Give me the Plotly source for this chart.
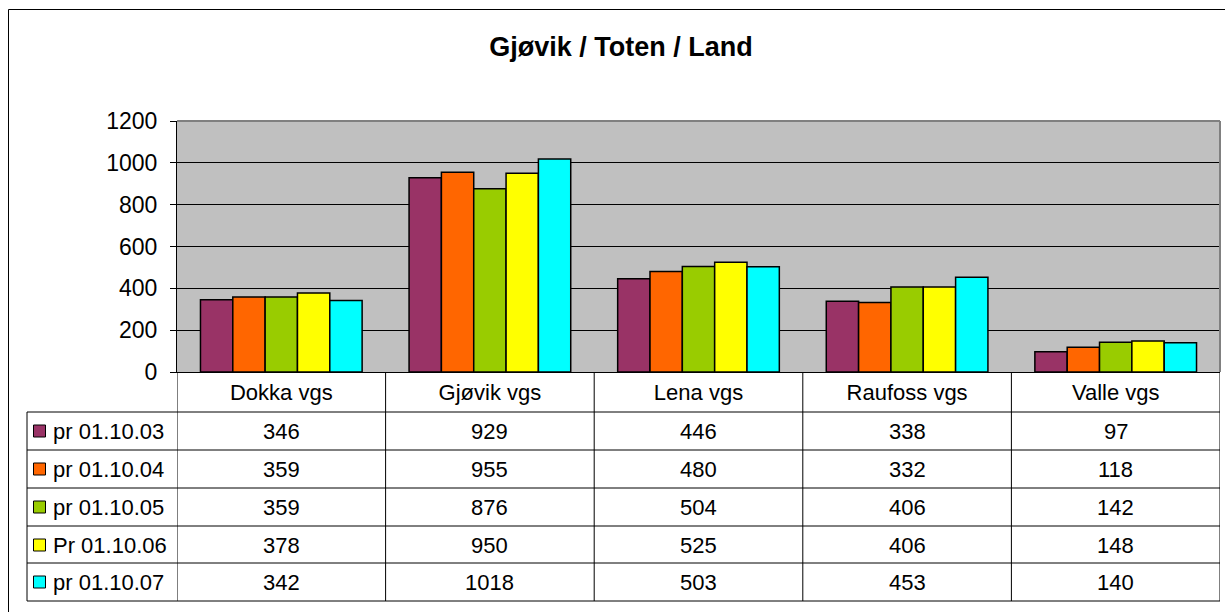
import plotly.graph_objects as go

categories = ["Dokka vgs", "Gjøvik vgs", "Lena vgs", "Raufoss vgs", "Valle vgs"]
series_names = ["pr 01.10.03", "pr 01.10.04", "pr 01.10.05", "Pr 01.10.06", "pr 01.10.07"]
v03 = [346, 929, 446, 338, 97]
v04 = [359, 955, 480, 332, 118]
v05 = [359, 876, 504, 406, 142]
v06 = [378, 950, 525, 406, 148]
v07 = [342, 1018, 503, 453, 140]
series_values = [v03, v04, v05, v06, v07]
colors = ["#993366", "#FF6600", "#99CC00", "#FFFF00", "#00FFFF"]
y_ticks = [0, 200, 400, 600, 800, 1000, 1200]

W, H = 1225, 612
L, R, T, B = 177, 5, 121, 240
PW = W - L - R
PH = H - T - B
FONT = "Liberation Sans, Arial, sans-serif"
FS = 22


def px(xp):
    return (xp - L) / PW


def py(yp):
    return (H - B - yp) / PH


fig = go.Figure()
for name, vals, col in zip(series_names, series_values, colors):
    fig.add_trace(go.Bar(
        x=list(range(len(categories))), y=vals, name=name,
        marker=dict(color=col, line=dict(color="black", width=1.5)),
        showlegend=False,
    ))

shapes = []
line_black = dict(color="black", width=1)
# table horizontal lines
row_edges = [412, 450, 488, 526, 563, 601]
for yy in row_edges:
    shapes.append(dict(type="line", xref="paper", yref="paper",
                       x0=px(27), x1=px(1220), y0=py(yy), y1=py(yy), line=line_black, layer="above"))
# vertical lines: column boundaries
for i in range(len(categories) + 1):
    shapes.append(dict(type="line", xref="x", yref="paper",
                       x0=i - 0.5, x1=i - 0.5, y0=py(372), y1=py(601), line=line_black, layer="above"))
shapes.append(dict(type="line", xref="paper", yref="paper",
                   x0=px(27), x1=px(27), y0=py(412), y1=py(601), line=line_black))
# plot area gray border top/right
shapes.append(dict(type="line", xref="paper", yref="paper", x0=0, x1=1, y0=1, y1=1,
                   line=dict(color="#808080", width=2), layer="above"))
shapes.append(dict(type="line", xref="paper", yref="paper", x0=1, x1=1, y0=0, y1=1,
                   line=dict(color="#808080", width=2), layer="above"))
# outer chart border (left and top)
shapes.append(dict(type="line", xref="paper", yref="paper", x0=px(8.5), x1=px(1240),
                   y0=py(9.5), y1=py(9.5), line=line_black))
shapes.append(dict(type="line", xref="paper", yref="paper", x0=px(8.5), x1=px(8.5),
                   y0=py(9.5), y1=py(640), line=line_black))

annotations = []
row_centers = [431, 469, 507, 545, 582]
for r, (name, vals, col) in enumerate(zip(series_names, series_values, colors)):
    yc = row_centers[r]
    shapes.append(dict(type="rect", xref="paper", yref="paper",
                       x0=px(33.5), x1=px(45.5), y0=py(yc - 6), y1=py(yc + 6),
                       fillcolor=col, line=dict(color="black", width=1)))
    annotations.append(dict(xref="paper", yref="paper", x=px(51), y=py(yc),
                            text=name, showarrow=False, xanchor="left", yanchor="middle",
                            font=dict(family=FONT, size=FS, color="black")))
    for i, v in enumerate(vals):
        annotations.append(dict(xref="x", yref="paper", x=i, y=py(yc),
                                text=str(v), showarrow=False, xanchor="center", yanchor="middle",
                                font=dict(family=FONT, size=FS, color="black")))

fig.update_layout(
    width=W, height=H,
    margin=dict(l=L, r=R, t=T, b=B),
    paper_bgcolor="white",
    plot_bgcolor="#C0C0C0",
    barmode="group",
    bargap=0.225,
    bargroupgap=0,
    title=dict(text="<b>Gjøvik / Toten / Land</b>", x=621 / W, xanchor="center",
               y=1 - 47 / H, yanchor="middle", yref="container",
               font=dict(family=FONT, size=27, color="black")),
    xaxis=dict(
        range=[-0.5, len(categories) - 0.5],
        tickvals=list(range(len(categories))), ticktext=categories,
        ticks="", showgrid=False, zeroline=False,
        showline=True, linecolor="black", linewidth=1,
        tickfont=dict(family=FONT, size=FS, color="black"),
        ticklabelstandoff=1,
    ),
    yaxis=dict(
        range=[0, 1200], tickvals=y_ticks,
        ticks="outside", ticklen=6, tickcolor="black", tickwidth=1,
        showgrid=True, gridcolor="black", gridwidth=1,
        zeroline=False, showline=True, linecolor="black", linewidth=1,
        tickfont=dict(family=FONT, size=23, color="black"),
        ticklabelstandoff=8,
    ),
    shapes=shapes,
    annotations=annotations,
)

fig.write_html("out.html", config={"displayModeBar": False},
               post_script="document.body.style.margin='0';document.body.style.padding='0';")
